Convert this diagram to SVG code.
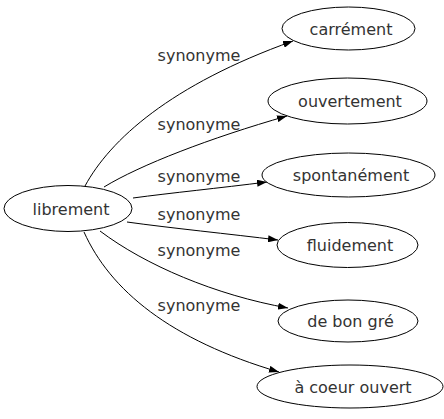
<svg xmlns="http://www.w3.org/2000/svg" width="444" height="419" viewBox="0 0 444 419">
<style>
.node ellipse{fill:#fff;stroke:#000;stroke-width:1}
.node text{font-family:"DejaVu Sans",sans-serif;font-size:16px;fill:#333;text-anchor:middle}
.edges path{fill:none;stroke:#000;stroke-width:1;marker-end:url(#arr)}
.edges text{font-family:"DejaVu Sans",sans-serif;font-size:16px;fill:#333;text-anchor:middle}
</style>
<defs>
<marker id="arr" markerUnits="userSpaceOnUse" markerWidth="10" markerHeight="7" refX="10" refY="3.5" orient="auto">
<path d="M0,0 L10,3.5 L0,7 z" fill="#000"/>
</marker>
</defs>
<rect width="444" height="419" fill="#fff"/>
<g class="edges">
<path d="M85,186 C110,140 170,85 293,41"/>
<path d="M104,187 C140,165 210,138 287,116"/>
<path d="M133,198 C170,193 220,188 267,182"/>
<path d="M127,222 C170,228 230,234 278,240"/>
<path d="M100,231 C145,265 215,295 288,308"/>
<path d="M84,232 C110,290 170,340 279,372"/>
<text x="199" y="61">synonyme</text>
<text x="199" y="130">synonyme</text>
<text x="199" y="182">synonyme</text>
<text x="199" y="220">synonyme</text>
<text x="199" y="256">synonyme</text>
<text x="199" y="311">synonyme</text>
</g>
<g id="librement" class="node"><ellipse cx="68" cy="208.5" rx="64" ry="23"/><text x="71" y="214.5">librement</text></g>
<g id="carrement" class="node"><ellipse cx="348.5" cy="28.5" rx="66.5" ry="21.5"/><text x="351" y="34.5">carrément</text></g>
<g id="ouvertement" class="node"><ellipse cx="347.5" cy="101" rx="79.5" ry="23"/><text x="350" y="107">ouvertement</text></g>
<g id="spontanement" class="node"><ellipse cx="348.5" cy="175" rx="86.5" ry="22"/><text x="351" y="181">spontanément</text></g>
<g id="fluidement" class="node"><ellipse cx="347.5" cy="245" rx="70.5" ry="22.5"/><text x="350" y="251">fluidement</text></g>
<g id="de-bon-gre" class="node"><ellipse cx="348" cy="321" rx="70" ry="21"/><text x="350.5" y="327">de bon gré</text></g>
<g id="a-coeur-ouvert" class="node"><ellipse cx="350" cy="386.5" rx="93" ry="21.5"/><text x="353" y="392.5">à coeur ouvert</text></g>
</svg>
